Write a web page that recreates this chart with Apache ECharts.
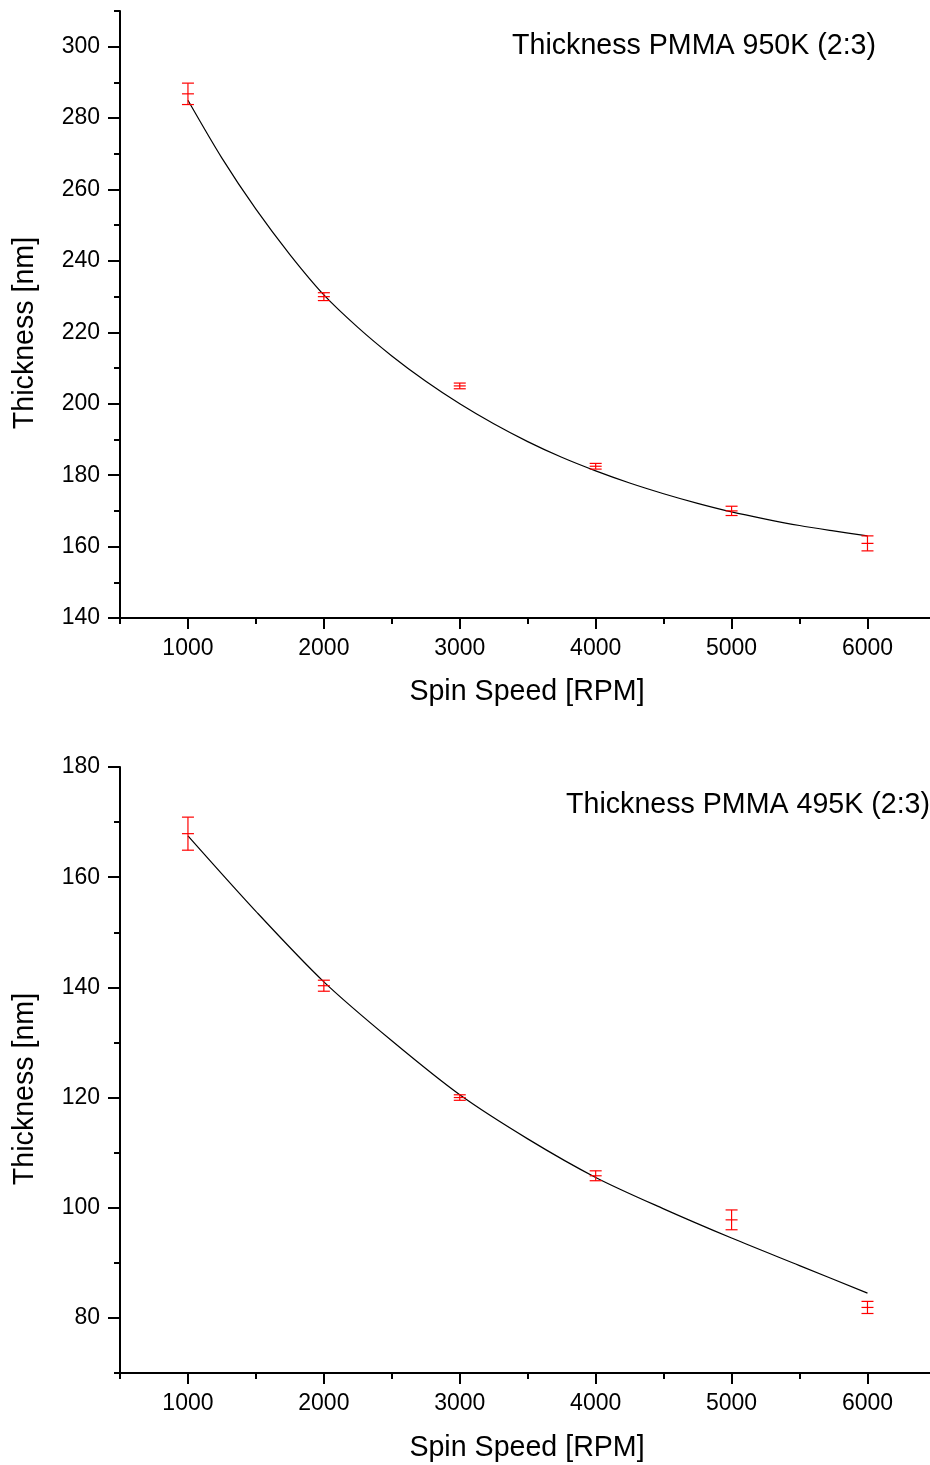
<!DOCTYPE html>
<html>
<head>
<meta charset="utf-8">
<script src="https://cdn.jsdelivr.net/npm/echarts@6/dist/echarts.min.js"></script>
<style>html,body{margin:0;padding:0;background:#fff;}#c{width:930px;height:1465px;}</style>
</head>
<body>
<div id="c"></div>
<script>
const xMajor = [1000, 2000, 3000, 4000, 5000, 6000];
const xMinor = [500, 1500, 2500, 3500, 4500, 5500];
const rpm = [1000, 2000, 3000, 4000, 5000, 6000];

const y1Major = [140, 160, 180, 200, 220, 240, 260, 280, 300];
const y1Minor = [150, 170, 190, 210, 230, 250, 270, 290, 310];
const t950 = [286.8, 230, 205, 182.5, 170, 160.9];
const e950 = [3.0, 1.1, 0.8, 0.8, 1.3, 2.1];
const fitX950 = [1000,1250,1500,1750,2000,2250,2500,2750,3000,3250,3500,3750,4000,4250,4500,4750,5000,5250,5500,5750,6000];
const fit950 = [285,268.8,254.5,241.8,230.5,221.4,213.4,206.3,200,194.4,189.4,185.0,181.2,177.8,174.8,172.1,169.7,167.7,165.9,164.4,163];

const y2Major = [80, 100, 120, 140, 160, 180];
const y2Minor = [70, 90, 110, 130, 150, 170];
const t495 = [167.9, 140.3, 120, 105.8, 97.8, 81.9];
const e495 = [3.0, 1.0, 0.5, 0.9, 1.8, 1.1];
const fitX495 = [1000,1500,2000,2500,3000,3500,4000,4500,5000,5500,6000];
const fit495 = [167.5,153.8,141,130.3,120.5,112.5,105.5,99.8,94.5,89.5,84.5];

const FONT = 'Liberation Sans, Arial, Helvetica, sans-serif';
const chart = echarts.init(document.getElementById('c'), null, {renderer: 'canvas'});

function xAxes(gi) {
  return [
    {gridIndex: gi, type: 'value', min: 500, max: 6460, position: 'bottom',
     axisLine: {show: true, lineStyle: {color: '#000', width: 2}},
     axisTick: {show: true, customValues: xMajor, length: 11, inside: false, lineStyle: {color: '#000', width: 2}},
     axisLabel: {show: true, customValues: xMajor, margin: 19, color: '#000', fontSize: 23, fontFamily: FONT,
                 formatter: v => String(v)},
     splitLine: {show: false}},
    {gridIndex: gi, type: 'value', min: 500, max: 6460, position: 'bottom',
     axisLine: {show: false},
     axisTick: {show: true, customValues: xMinor, length: 6, inside: false, lineStyle: {color: '#000', width: 2}},
     axisLabel: {show: false}, splitLine: {show: false}}
  ];
}
function yAxes(gi, min, max, major, minor) {
  return [
    {gridIndex: gi, type: 'value', min: min, max: max, position: 'left',
     axisLine: {show: true, lineStyle: {color: '#000', width: 2}},
     axisTick: {show: true, customValues: major, length: 12, inside: false, lineStyle: {color: '#000', width: 2}},
     axisLabel: {show: true, customValues: major, margin: 20, color: '#000', fontSize: 23, fontFamily: FONT,
                 formatter: v => String(v)},
     splitLine: {show: false}},
    {gridIndex: gi, type: 'value', min: min, max: max, position: 'left',
     axisLine: {show: false},
     axisTick: {show: true, customValues: minor, length: 6, inside: false, lineStyle: {color: '#000', width: 2}},
     axisLabel: {show: false}, splitLine: {show: false}}
  ];
}
function errSeries(xi, yi, xs, ys, es) {
  return {
    type: 'custom', xAxisIndex: xi, yAxisIndex: yi, z: 5,
    data: xs.map((x, i) => [x, ys[i], es[i]]),
    renderItem: function (params, api) {
      const x = api.value(0), y = api.value(1), e = api.value(2);
      const c = api.coord([x, y]);
      const top = api.coord([x, y + e]);
      const bot = api.coord([x, y - e]);
      const w = 6;
      const st = {stroke: '#ff0000', lineWidth: 1.2};
      return {type: 'group', children: [
        {type: 'line', shape: {x1: c[0], y1: top[1], x2: c[0], y2: bot[1]}, style: st},
        {type: 'line', shape: {x1: c[0] - w, y1: top[1], x2: c[0] + w, y2: top[1]}, style: st},
        {type: 'line', shape: {x1: c[0] - w, y1: bot[1], x2: c[0] + w, y2: bot[1]}, style: st},
        {type: 'line', shape: {x1: c[0] - w, y1: c[1], x2: c[0] + w, y2: c[1]}, style: st}
      ]};
    }
  };
}
function fitSeries(xi, yi, xs, ys) {
  return {
    type: 'line', xAxisIndex: xi, yAxisIndex: yi, z: 3,
    data: xs.map((x, i) => [x, ys[i]]),
    smooth: 0.3, showSymbol: false, symbol: 'none',
    lineStyle: {color: '#000', width: 1.2}, silent: true
  };
}

const option = {
  backgroundColor: '#fff',
  animation: false,
  grid: [
    {left: 120, top: 11, width: 810, height: 607, containLabel: false},
    {left: 120, top: 767, width: 810, height: 606, containLabel: false}
  ],
  xAxis: [...xAxes(0), ...xAxes(1)],
  yAxis: [...yAxes(0, 140, 310, y1Major, y1Minor), ...yAxes(1, 70, 180, y2Major, y2Minor)],
  series: [
    fitSeries(0, 0, fitX950, fit950),
    errSeries(0, 0, rpm, t950, e950),
    fitSeries(2, 2, fitX495, fit495),
    errSeries(2, 2, rpm, t495, e495)
  ],
  graphic: [
    {type: 'text', x: 876, y: 46, style: {text: 'Thickness PMMA 950K (2:3)', font: '28.6px ' + FONT, fill: '#000', textAlign: 'right', textVerticalAlign: 'middle'}},
    {type: 'text', x: 930, y: 805, style: {text: 'Thickness PMMA 495K (2:3)', font: '28.6px ' + FONT, fill: '#000', textAlign: 'right', textVerticalAlign: 'middle'}},
    {type: 'text', x: 527, y: 692, style: {text: 'Spin Speed [RPM]', font: '28.6px ' + FONT, fill: '#000', textAlign: 'center', textVerticalAlign: 'middle'}},
    {type: 'text', x: 527, y: 1448, style: {text: 'Spin Speed [RPM]', font: '28.6px ' + FONT, fill: '#000', textAlign: 'center', textVerticalAlign: 'middle'}},
    {type: 'text', x: 25, y: 333, rotation: Math.PI / 2, style: {text: 'Thickness [nm]', font: '28.6px ' + FONT, fill: '#000', textAlign: 'center', textVerticalAlign: 'middle'}},
    {type: 'text', x: 25, y: 1089, rotation: Math.PI / 2, style: {text: 'Thickness [nm]', font: '28.6px ' + FONT, fill: '#000', textAlign: 'center', textVerticalAlign: 'middle'}}
  ]
};
chart.setOption(option);
</script>
</body>
</html>
